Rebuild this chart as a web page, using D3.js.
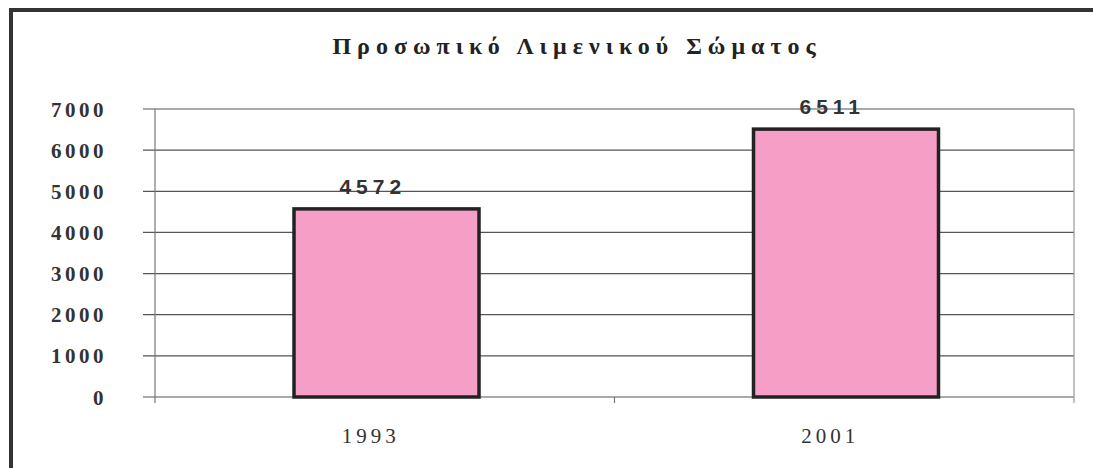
<!DOCTYPE html>
<html>
<head>
<meta charset="utf-8">
<script src="https://cdn.jsdelivr.net/npm/d3@7"></script>
<style>
  body { margin: 0; background: #fff; }
  svg { display: block; }
</style>
</head>
<body>
<div id="chart"></div>
<script>
var title = "Προσωπικό Λιμενικού Σώματος";
var years = ["1993", "2001"];
var staff = [4572, 6511];
var yTicks = [0, 1000, 2000, 3000, 4000, 5000, 6000, 7000];

var width = 1093, height = 468;
var margin = {top: 109, right: 19, bottom: 71, left: 155};
var w = width - margin.left - margin.right,
    h = height - margin.top - margin.bottom;

var svg = d3.select("#chart").append("svg")
    .attr("width", width)
    .attr("height", height);

// scanned frame (left + top edges only)
svg.append("path")
    .attr("d", "M11,468 V10 H1093")
    .attr("fill", "none")
    .attr("stroke", "#333336")
    .attr("stroke-width", 4);

svg.append("text")
    .attr("x", 577)
    .attr("y", 54)
    .attr("text-anchor", "middle")
    .style("font-family", "'Liberation Serif', 'DejaVu Serif', serif")
    .style("font-weight", "bold")
    .style("font-size", "24px")
    .style("letter-spacing", "6px")
    .attr("fill", "#222")
    .text(title);

var g = svg.append("g")
    .attr("transform", "translate(" + margin.left + "," + margin.top + ")");

var band = d3.scaleBand().domain(years).range([0, w]);
var y = d3.scaleLinear().domain([0, 7000]).range([h, 0]);

// gridlines
g.append("g")
    .selectAll("line")
    .data(yTicks)
    .enter().append("line")
    .attr("x1", -12)
    .attr("x2", w)
    .attr("y1", function(d) { return y(d); })
    .attr("y2", function(d) { return y(d); })
    .attr("stroke", "#555")
    .attr("stroke-width", 1.2);

// left axis and right edge
g.append("line").attr("x1", 0).attr("x2", 0).attr("y1", 0).attr("y2", h + 6)
    .attr("stroke", "#777").attr("stroke-width", 1.2);
g.append("line").attr("x1", w).attr("x2", w).attr("y1", 0).attr("y2", h + 6)
    .attr("stroke", "#999").attr("stroke-width", 1.2);
// category separator tick
g.append("line")
    .attr("x1", band.step()).attr("x2", band.step())
    .attr("y1", h).attr("y2", h + 6)
    .attr("stroke", "#777").attr("stroke-width", 1.2);

// y labels
g.append("g")
    .selectAll("text")
    .data(yTicks)
    .enter().append("text")
    .attr("x", -48)
    .attr("y", function(d) { return y(d); })
    .attr("dy", "0.36em")
    .attr("text-anchor", "end")
    .style("font-family", "'Liberation Serif', 'DejaVu Serif', serif")
    .style("font-weight", "bold")
    .style("font-size", "21px")
    .style("letter-spacing", "3.5px")
    .attr("fill", "#333")
    .text(function(d) { return d; });

// bars
g.selectAll(".bar")
    .data(staff)
    .enter().append("rect")
    .attr("class", "bar")
    .attr("x", function(d, i) { return band(years[i]) + 139; })
    .attr("width", 185)
    .attr("y", function(d) { return y(d); })
    .attr("height", function(d) { return h - y(d); })
    .attr("fill", "#f59fc6")
    .attr("stroke", "#222")
    .attr("stroke-width", 3.5);

// value labels
g.selectAll(".val")
    .data(staff)
    .enter().append("text")
    .attr("class", "val")
    .attr("x", function(d, i) { return band(years[i]) + band.bandwidth() / 2 - 12; })
    .attr("y", function(d) { return y(d) - 15; })
    .attr("text-anchor", "middle")
    .style("font-family", "'Liberation Sans', Arial, sans-serif")
    .style("font-weight", "bold")
    .style("font-size", "21px")
    .style("letter-spacing", "5px")
    .attr("fill", "#333")
    .text(function(d) { return d; });

// x labels
g.selectAll(".xl")
    .data(years)
    .enter().append("text")
    .attr("class", "xl")
    .attr("x", function(d) { return band(d) + band.bandwidth() / 2 - 14; })
    .attr("y", h + 46)
    .attr("text-anchor", "middle")
    .style("font-family", "'Liberation Serif', 'DejaVu Serif', serif")
    .style("font-size", "21px")
    .style("letter-spacing", "4px")
    .attr("fill", "#333")
    .text(function(d) { return d; });
</script>
</body>
</html>
